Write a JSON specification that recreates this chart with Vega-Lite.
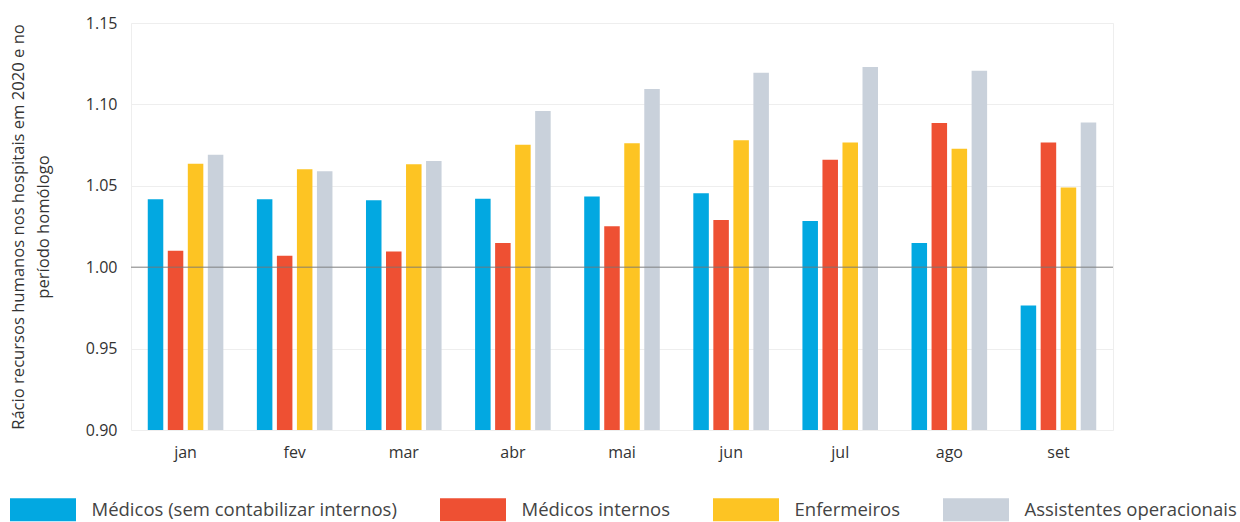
{
  "$schema": "https://vega.github.io/schema/vega-lite/v6.json",
  "width": 982,
  "height": 407,
  "autosize": {"type": "none"},
  "padding": {"left": 131, "top": 23, "right": 127, "bottom": 92},
  "background": "white",
  "config": {
    "font": "Open Sans",
    "view": {"stroke": "#eeeeee"},
    "axis": {"gridColor": "#eeeeee", "domain": false, "ticks": false, "labelColor": "#333333", "titleColor": "#333333"}
  },
  "datasets": {
    "bars": [
      {"mes": "jan", "grupo": "Médicos (sem contabilizar internos)", "valor": 1.0417},
      {"mes": "jan", "grupo": "Médicos internos", "valor": 1.0101},
      {"mes": "jan", "grupo": "Enfermeiros", "valor": 1.0636},
      {"mes": "jan", "grupo": "Assistentes operacionais", "valor": 1.0690},
      {"mes": "fev", "grupo": "Médicos (sem contabilizar internos)", "valor": 1.0417},
      {"mes": "fev", "grupo": "Médicos internos", "valor": 1.0070},
      {"mes": "fev", "grupo": "Enfermeiros", "valor": 1.0602},
      {"mes": "fev", "grupo": "Assistentes operacionais", "valor": 1.0590},
      {"mes": "mar", "grupo": "Médicos (sem contabilizar internos)", "valor": 1.0412},
      {"mes": "mar", "grupo": "Médicos internos", "valor": 1.0096},
      {"mes": "mar", "grupo": "Enfermeiros", "valor": 1.0633},
      {"mes": "mar", "grupo": "Assistentes operacionais", "valor": 1.0653},
      {"mes": "abr", "grupo": "Médicos (sem contabilizar internos)", "valor": 1.0420},
      {"mes": "abr", "grupo": "Médicos internos", "valor": 1.0149},
      {"mes": "abr", "grupo": "Enfermeiros", "valor": 1.0752},
      {"mes": "abr", "grupo": "Assistentes operacionais", "valor": 1.0960},
      {"mes": "mai", "grupo": "Médicos (sem contabilizar internos)", "valor": 1.0434},
      {"mes": "mai", "grupo": "Médicos internos", "valor": 1.0252},
      {"mes": "mai", "grupo": "Enfermeiros", "valor": 1.0762},
      {"mes": "mai", "grupo": "Assistentes operacionais", "valor": 1.1094},
      {"mes": "jun", "grupo": "Médicos (sem contabilizar internos)", "valor": 1.0455},
      {"mes": "jun", "grupo": "Médicos internos", "valor": 1.0290},
      {"mes": "jun", "grupo": "Enfermeiros", "valor": 1.0780},
      {"mes": "jun", "grupo": "Assistentes operacionais", "valor": 1.1194},
      {"mes": "jul", "grupo": "Médicos (sem contabilizar internos)", "valor": 1.0284},
      {"mes": "jul", "grupo": "Médicos internos", "valor": 1.0660},
      {"mes": "jul", "grupo": "Enfermeiros", "valor": 1.0766},
      {"mes": "jul", "grupo": "Assistentes operacionais", "valor": 1.1229},
      {"mes": "ago", "grupo": "Médicos (sem contabilizar internos)", "valor": 1.0149},
      {"mes": "ago", "grupo": "Médicos internos", "valor": 1.0886},
      {"mes": "ago", "grupo": "Enfermeiros", "valor": 1.0727},
      {"mes": "ago", "grupo": "Assistentes operacionais", "valor": 1.1207},
      {"mes": "set", "grupo": "Médicos (sem contabilizar internos)", "valor": 0.9765},
      {"mes": "set", "grupo": "Médicos internos", "valor": 1.0766},
      {"mes": "set", "grupo": "Enfermeiros", "valor": 1.0490},
      {"mes": "set", "grupo": "Assistentes operacionais", "valor": 1.0889}
    ],
    "ref": [{"y": 1}]
  },
  "layer": [
    {
      "data": {"name": "bars"},
      "mark": {"type": "bar", "clip": true},
      "encoding": {
        "x": {
          "field": "mes", "type": "nominal",
          "sort": ["jan", "fev", "mar", "abr", "mai", "jun", "jul", "ago", "set"],
          "scale": {"paddingInner": 0.266, "paddingOuter": 0.133},
          "axis": {"title": null, "labelAngle": 0, "labelFontSize": 16, "labelPadding": 14, "grid": false}
        },
        "xOffset": {
          "field": "grupo", "type": "nominal",
          "sort": ["Médicos (sem contabilizar internos)", "Médicos internos", "Enfermeiros", "Assistentes operacionais"],
          "scale": {"paddingInner": 0.225, "paddingOuter": 0.1125}
        },
        "y": {
          "field": "valor", "type": "quantitative",
          "scale": {"domain": [0.9, 1.15], "nice": false, "zero": false},
          "axis": {
            "title": ["Rácio recursos humanos nos hospitais em 2020 e no", "período homólogo"],
            "titleFontSize": 16.6, "titleFontWeight": "normal", "titleLineHeight": 25,
            "values": [0.9, 0.95, 1.0, 1.05, 1.1, 1.15], "format": ".2f",
            "labelFontSize": 16, "labelPadding": 14, "titlePadding": 34
          }
        },
        "y2": {"datum": 0.9},
        "color": {
          "field": "grupo", "type": "nominal",
          "sort": ["Médicos (sem contabilizar internos)", "Médicos internos", "Enfermeiros", "Assistentes operacionais"],
          "scale": {
            "domain": ["Médicos (sem contabilizar internos)", "Médicos internos", "Enfermeiros", "Assistentes operacionais"],
            "range": ["#02A8E1", "#EE5033", "#FDC423", "#C9D1DB"]
          },
          "legend": {
            "title": null,
            "orient": "none",
            "direction": "horizontal",
            "legendX": -121,
            "legendY": 453.5,
            "symbolType": "M-1,-0.35H1V0.35H-1Z",
            "symbolSize": 4356,
            "symbolStrokeWidth": 0,
            "symbolOpacity": 1,
            "labelFontSize": 18.5,
            "labelColor": "#444444",
            "labelOffset": 15.5,
            "columnPadding": 43,
            "labelLimit": 400
          }
        }
      }
    },
    {
      "data": {"name": "ref"},
      "mark": {"type": "rule", "color": "#777777", "strokeWidth": 1.5, "opacity": 0.6},
      "encoding": {"y": {"field": "y", "type": "quantitative"}}
    }
  ]
}
